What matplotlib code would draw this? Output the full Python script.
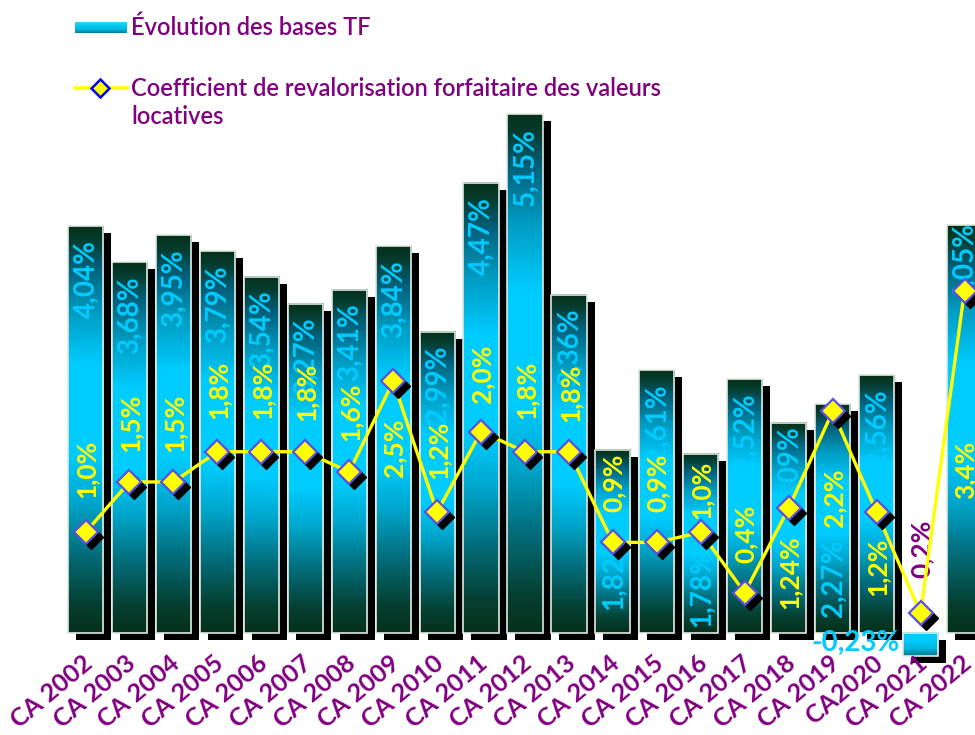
import numpy as np
import matplotlib
matplotlib.use('Agg')
import matplotlib.pyplot as plt
from matplotlib.colors import LinearSegmentedColormap
from matplotlib.patches import Rectangle
from matplotlib.lines import Line2D
import matplotlib.transforms as mtransforms

# ---------------- data ----------------
categories = ["CA 2002", "CA 2003", "CA 2004", "CA 2005", "CA 2006", "CA 2007",
              "CA 2008", "CA 2009", "CA 2010", "CA 2011", "CA 2012", "CA 2013",
              "CA 2014", "CA 2015", "CA 2016", "CA 2017", "CA 2018", "CA 2019",
              "CA2020", "CA 2021", "CA 2022"]
bases_tf = [4.04, 3.68, 3.95, 3.79, 3.54, 3.27, 3.41, 3.84, 2.99, 4.47, 5.15,
            3.36, 1.82, 2.61, 1.78, 2.52, 2.09, 2.27, 2.56, -0.23, 4.05]
coef = [1.0, 1.5, 1.5, 1.8, 1.8, 1.8, 1.6, 2.5, 1.2, 2.0, 1.8, 1.8, 0.9, 0.9,
        1.0, 0.4, 1.24, 2.2, 1.2, 0.2, 3.4]
bases_labels = ["4,04%", "3,68%", "3,95%", "3,79%", "3,54%", "3,27%", "3,41%",
                "3,84%", "2,99%", "4,47%", "5,15%", "3,36%", "1,82%", "2,61%",
                "1,78%", "2,52%", "2,09%", "2,27%", "2,56%", "-0,23%", "4,05%"]
coef_labels = ["1,0%", "1,5%", "1,5%", "1,8%", "1,8%", "1,8%", "1,6%", "2,5%",
               "1,2%", "2,0%", "1,8%", "1,8%", "0,9%", "0,9%", "1,0%", "0,4%",
               "1,24%", "2,2%", "1,2%", "0,2%", "3,4%"]
series_names = ["Évolution des bases TF",
                "Coefficient de revalorisation forfaitaire des valeurs\nlocatives"]

# ---------------- style ----------------
FONT = ['Lato', 'DejaVu Sans']
plt.rcParams['font.family'] = FONT
PURPLE = '#800080'
CYAN = '#00CCFF'
YELLOW = '#FFFF00'
W, H = 975, 735
fig = plt.figure(figsize=(W / 100, H / 100), dpi=100)
ax = fig.add_axes([0, 0, 1, 1])
ax.set_axis_off()

px_x = 43.95   # pixels per category
px_y = 100.7   # pixels per percent
x0_px = 85.5   # pixel of first category centre
y0_px = 633.0  # pixel (from top) of zero
xlim = (-x0_px / px_x, (W - x0_px) / px_x)
ylim = (-(H - y0_px) / px_y, y0_px / px_y)

bar_cmap = LinearSegmentedColormap.from_list('bars', [
    (0.00, '#06301c'), (0.07, '#053f30'), (0.20, '#03707f'), (0.32, '#00a6cc'),
    (0.44, '#00ccff'), (0.66, '#00ccff'), (0.79, '#009cc2'), (0.90, '#02607a'),
    (0.97, '#053a2a'), (1.00, '#06301c')])
neg_cmap = LinearSegmentedColormap.from_list('neg', ['#007a92', '#00b8e0', '#00ccff', '#00ccff'])

bw = 0.8
sdx = 8 / px_x
sdy = 7 / px_y
grad = np.linspace(0, 1, 256).reshape(-1, 1)

xs = np.arange(len(categories))
# shadows
for x, h in zip(xs, bases_tf):
    ax.add_patch(Rectangle((x - bw / 2 + sdx, -sdy), bw, h, facecolor='black',
                           edgecolor='none', zorder=1))
# bars with gradient
bars = ax.bar(xs, bases_tf, width=bw, facecolor='none', edgecolor='#dfe9e2',
              linewidth=1.2, zorder=3)
for rect, h in zip(bars, bases_tf):
    x = rect.get_x()
    if h >= 0:
        ax.imshow(grad, extent=[x, x + bw, 0, h], origin='lower', aspect='auto',
                  cmap=bar_cmap, zorder=2, interpolation='bilinear')
    else:
        ax.imshow(grad, extent=[x, x + bw, h, 0], origin='lower', aspect='auto',
                  cmap=neg_cmap, zorder=2, interpolation='bilinear')

def off(dx, dy):
    return mtransforms.offset_copy(ax.transData, fig=fig, x=dx, y=dy, units='dots')

# bar value labels (pixel offsets: top-anchored from bar top, or bottom-anchored from base)
bottom_anchor = {12: 23, 14: 6, 17: 16}
top_offset = {16: -4, 20: 2}
for i, (x, h, lab) in enumerate(zip(xs, bases_tf, bases_labels)):
    if h < 0:
        ax.text(x - bw / 2, 0, lab, transform=off(-3, -10), ha='right', va='center',
                color=CYAN, fontsize=20, fontweight='bold', zorder=6)
    elif i in bottom_anchor:
        ax.text(x, 0, lab, transform=off(1, bottom_anchor[i]), rotation=90,
                ha='center', va='bottom', color=CYAN, fontsize=20,
                fontweight='bold', zorder=5)
    else:
        ax.text(x, h, lab, transform=off(1, top_offset.get(i, -14)), rotation=90,
                ha='center', va='top', color=CYAN, fontsize=20,
                fontweight='bold', zorder=5)

# line
ax.plot(xs, coef, color=YELLOW, lw=2.4, zorder=7)
ax.plot(xs, coef, linestyle='none', marker='D', ms=12.5, color='black',
        transform=off(5, -5), zorder=7.5)
ax.plot(xs, coef, linestyle='none', marker='D', ms=12.5, markerfacecolor=YELLOW,
        markeredgecolor='#5a4fe6', markeredgewidth=1.6, zorder=8)

coef_offsets = [34, 30, 30, 33, 33, 31, 31, -37, 33, 29, 33, 30, 30, 30, 13, 30,
                -27, -57, -25, 35, -150]
for i, (x, v, lab, o) in enumerate(zip(xs, coef, coef_labels, coef_offsets)):
    col = PURPLE if i == 19 else YELLOW
    ax.text(x, v, lab, transform=off(1, o), rotation=90, ha='center',
            va='bottom' if o > 0 else 'top', color=col, fontsize=19,
            fontweight='bold', zorder=6)

# category labels
for x, lab in zip(xs, categories):
    ax.text(x, 0, lab, transform=off(-4, -18), rotation=40, rotation_mode='anchor',
            ha='right', va='top', color=PURPLE, fontsize=18, fontweight='bold',
            zorder=6)

ax.set_xlim(*xlim)
ax.set_ylim(*ylim)

# ---------------- legend ----------------
def fx(px):
    return px / W

def fy(py):
    return 1 - py / H

lax = fig.add_axes([fx(75), fy(33), fx(52), 11 / H])
lax.set_axis_off()
lax.imshow(np.linspace(0, 1, 64).reshape(-1, 1), origin='lower', aspect='auto',
           cmap=LinearSegmentedColormap.from_list('leg', ['#007a90', '#00b8e0', '#00c8f0', '#30d8f8']))
fig.text(fx(131), fy(27), series_names[0], ha='left', va='center', color=PURPLE,
         fontsize=17, fontweight='semibold')
fig.add_artist(Line2D([fx(75), fx(127)], [fy(88), fy(88)], color=YELLOW, lw=2.6,
                      transform=fig.transFigure))
fig.add_artist(Line2D([fx(100)], [fy(88)], linestyle='none', marker='D', ms=9,
                      markerfacecolor=YELLOW, markeredgecolor='#0000ff',
                      markeredgewidth=1.8, transform=fig.transFigure))
fig.text(fx(131), fy(102.5), series_names[1], ha='left', va='center', color=PURPLE,
         fontsize=17, fontweight='semibold', linespacing=1.25)

fig.savefig('out.png', dpi=100, facecolor='white')
